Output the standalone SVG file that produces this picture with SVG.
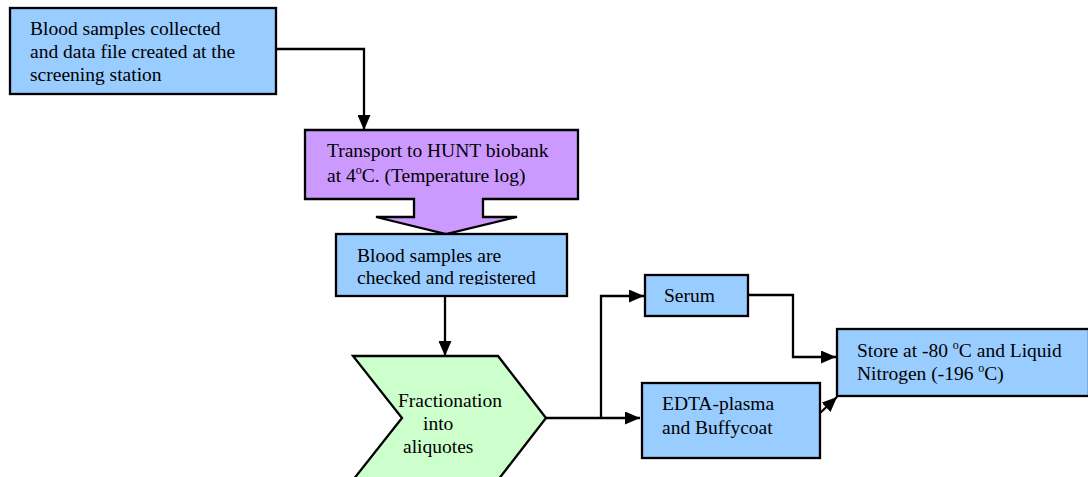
<svg xmlns="http://www.w3.org/2000/svg" width="1088" height="477" viewBox="0 0 1088 477">
<style>
.box{stroke:#000;stroke-width:2.3}
.blue{fill:#99CCFF}
.t{font-family:"Liberation Serif","Times New Roman",serif;font-size:19.5px;fill:#000}
.sup{font-size:12px}
.c{fill:none;stroke:#000;stroke-width:2.3;marker-end:url(#ah)}
</style>
<defs>
<marker id="ah" markerUnits="userSpaceOnUse" markerWidth="15" markerHeight="13" refX="15" refY="6.5" orient="auto">
<path d="M0,0 L15,6.5 L0,13 z" fill="#000"/>
</marker>
<clipPath id="clip3"><rect x="337" y="235" width="229" height="50"/></clipPath>
</defs>
<rect width="1088" height="477" fill="#fff"/>
<g id="connectors">
<path class="c" d="M277,49 H364 V130"/>
<path class="c" d="M445,296 V356"/>
<path class="c" d="M546,418 H640"/>
<path class="c" d="M601,418 V296 H644"/>
<path class="c" d="M748,295 H793 V357 H836"/>
<path class="c" d="M820,413 L837,397"/>
</g>
<g id="node-collected">
<rect class="box blue" x="10" y="8" width="266" height="86"/>
<text class="t" x="30" y="35">Blood samples collected</text>
<text class="t" x="30" y="58">and data file created at the</text>
<text class="t" x="30" y="81">screening station</text>
</g>
<g id="node-transport">
<path class="box" fill="#CC99FF" d="M305,130 H578 V199 H483 V217 H517 L446,234 L376,217 H414 V199 H305 Z"/>
<text class="t" x="327" y="157">Transport to HUNT biobank</text>
<text class="t" x="327" y="182">at 4<tspan class="sup" dy="-8">o</tspan><tspan dy="8">C. (Temperature log)</tspan></text>
</g>
<g id="node-checked">
<rect class="box blue" x="336" y="234" width="231" height="62"/>
<g clip-path="url(#clip3)">
<text class="t" x="357" y="262">Blood samples are</text>
<text class="t" x="357" y="284">checked and registered</text>
</g>
</g>
<g id="node-fractionation">
<path class="box" fill="#CCFFCC" d="M353,356 H498 L546,418 L498,480 H353 L402,418 Z"/>
<text class="t" x="398" y="407">Fractionation</text>
<text class="t" x="423" y="430">into</text>
<text class="t" x="403" y="453">aliquotes</text>
</g>
<g id="node-serum">
<rect class="box blue" x="645" y="275" width="103" height="41"/>
<text class="t" x="664" y="302">Serum</text>
</g>
<g id="node-edta">
<rect class="box blue" x="642" y="383" width="178" height="75"/>
<text class="t" x="662" y="410">EDTA-plasma</text>
<text class="t" x="662" y="434">and Buffycoat</text>
</g>
<g id="node-store">
<rect class="box blue" x="837" y="329" width="252" height="67"/>
<text class="t" x="857" y="357">Store at -80 <tspan class="sup" dy="-8">o</tspan><tspan dy="8">C and Liquid</tspan></text>
<text class="t" x="857" y="380">Nitrogen (-196 <tspan class="sup" dy="-8">o</tspan><tspan dy="8">C)</tspan></text>
</g>
</svg>
